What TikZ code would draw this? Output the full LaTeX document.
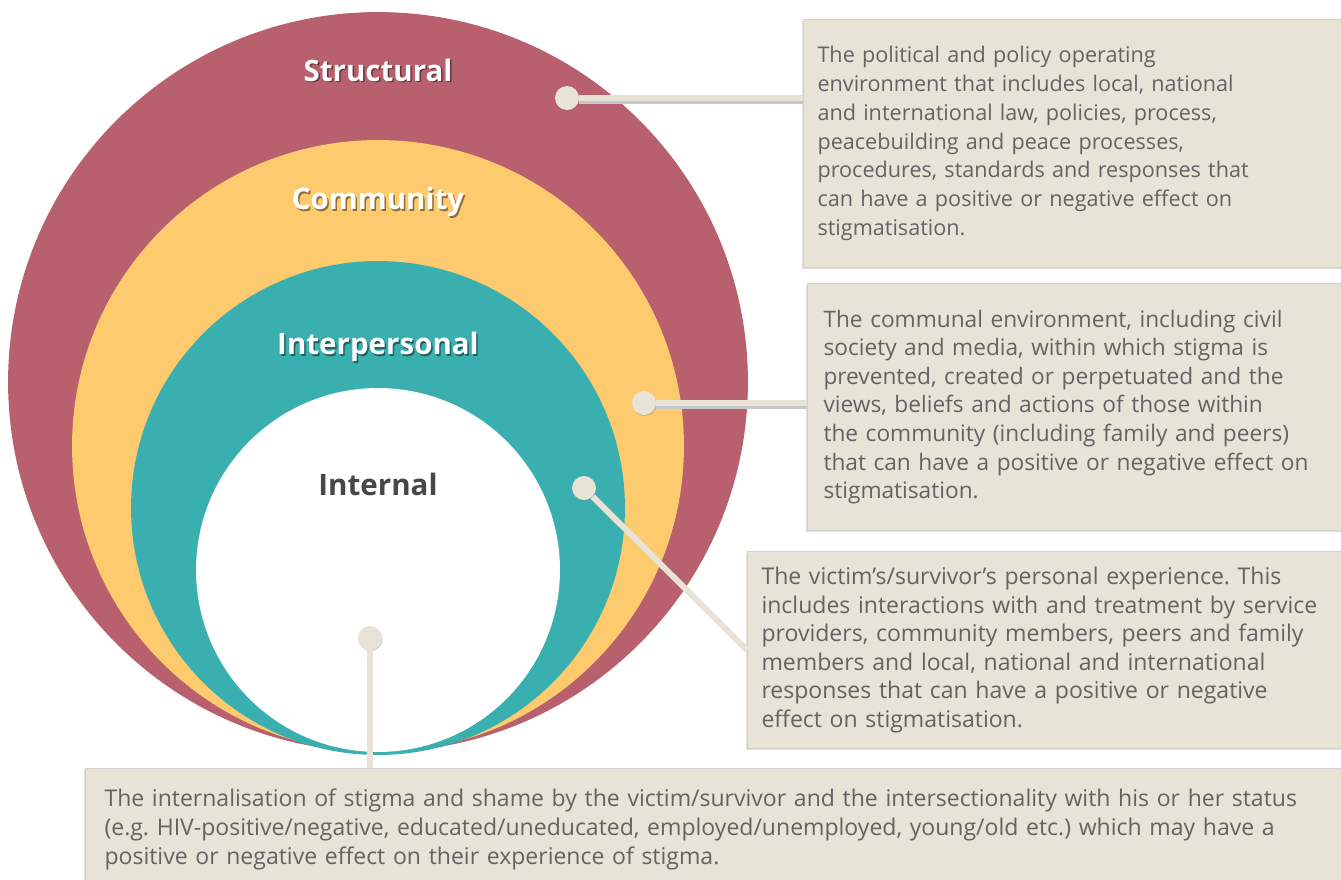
\documentclass[tikz,border=0pt]{standalone}
\usepackage{fontspec}
\setmainfont{Open Sans}
\usetikzlibrary{shadows}
\frenchspacing

\definecolor{ringred}{HTML}{B8606D}
\definecolor{ringyellow}{HTML}{FDCA6E}
\definecolor{ringteal}{HTML}{3AAFAF}
\definecolor{boxbeige}{HTML}{E7E3D6}
\definecolor{boxtext}{HTML}{636363}

\begin{document}
\begin{tikzpicture}[x=0.02cm, y=-0.02cm,
    ringlabel/.style={font=\fontsize{16.8}{20}\selectfont\bfseries, text=white},
    ringshade/.style={font=\fontsize{16.8}{20}\selectfont\bfseries, text=black, opacity=0.45},
    descbox/.style={rectangle, fill=boxbeige, draw=black!18, line width=0.6pt, anchor=north west,
      align=left, inner xsep=14*0.02cm, text=boxtext, font=\fontsize{12.6}{16.3}\selectfont,
      drop shadow={shadow xshift=-0.6pt, shadow yshift=-0.8pt, opacity=0.25}},
    dot/.style={circle, fill=boxbeige, minimum size=24*0.02cm, inner sep=0pt,
      drop shadow={shadow xshift=0.4pt, shadow yshift=-0.6pt, opacity=0.35}},
    linkshade/.style={draw=black!22, line width=3.4pt},
    link/.style={draw=boxbeige, line width=3.4pt}]
  \useasboundingbox (0,0) rectangle (1341,879);

  % nested rings
  \fill[ringred]    (378,382) circle[radius=7.40cm];
  \fill[ringyellow] (378,446) circle[radius=6.12cm];
  \fill[ringteal]   (378,508) circle[radius=4.94cm];
  \fill[white]      (378,570) circle[radius=3.64cm];

  % ring titles
  \node[ringshade] at (379.5,71.5) {Structural};
  \node[ringlabel] (1) at (378,70) {Structural};
  \node[ringshade] at (379.5,203.5) {Community};
  \node[ringlabel] (2) at (378,202) {Community};
  \node[ringshade] at (379.5,348.5) {Interpersonal};
  \node[ringlabel] (3) at (378,347) {Interpersonal};
  \node[ringlabel, text=black!72] (4) at (378,484) {Internal};

  % description boxes
  \node[descbox, minimum width=547*0.02cm, minimum height=248*0.02cm, text width=519*0.02cm,
    font=\fontsize{12.3}{16.4}\selectfont] (b1) at (803,19)
    {The political and policy operating\\
     environment that includes local, national\\
     and international law, policies, process,\\
     peacebuilding and peace processes,\\
     procedures, standards and responses that\\
     can have a positive or negative effect on\\
     stigmatisation.};
  \node[descbox, minimum width=543*0.02cm, minimum height=247*0.02cm, text width=511*0.02cm,
    inner xsep=16*0.02cm, font=\fontsize{12.9}{16.3}\selectfont] (b2) at (807,283)
    {The communal environment, including civil\\
     society and media, within which stigma is\\
     prevented, created or perpetuated and the\\
     views, beliefs and actions of those within\\
     the community (including family and peers)\\
     that can have a positive or negative effect on\\
     stigmatisation.};
  \node[descbox, minimum width=603*0.02cm, minimum height=197*0.02cm, text width=575*0.02cm,
    font=\fontsize{13.1}{16.3}\selectfont] (b3) at (747,551)
    {The victim’s/survivor’s personal experience. This\\
     includes interactions with and treatment by service\\
     providers, community members, peers and family\\
     members and local, national and international\\
     responses that can have a positive or negative\\
     effect on stigmatisation.};
  \node[descbox, minimum width=1265*0.02cm, minimum height=122*0.02cm, text width=1227*0.02cm,
    inner xsep=19*0.02cm, font=\fontsize{13.1}{16.4}\selectfont] (b4) at (85,768)
    {The internalisation of stigma and shame by the victim/survivor and the intersectionality with his or her status\\
     (e.g. HIV-positive/negative, educated/uneducated, employed/unemployed, young/old etc.) which may have a\\
     positive or negative effect on their experience of stigma.};

  % pointer dots
  \node[dot] (d1) at (567,98) {};
  \node[dot] (d2) at (644,403) {};
  \node[dot] (d3) at (584,488) {};
  \node[dot] (d4) at (370,638) {};

  % leader lines
  \draw[linkshade] ([yshift=-1.6pt]d1.east) -- ([yshift=-1.6pt]b1.west |- d1);
  \draw[link] (d1) -- (b1.west |- d1);
  \draw[linkshade] ([yshift=-1.6pt]d2.east) -- ([yshift=-1.6pt]b2.west |- d2);
  \draw[link] (d2) -- (b2.west |- d2);
  \draw[link] (d3) -- (b3.west);
  \draw[link] (d4) -- (d4 |- b4.north);
\end{tikzpicture}
\end{document}
